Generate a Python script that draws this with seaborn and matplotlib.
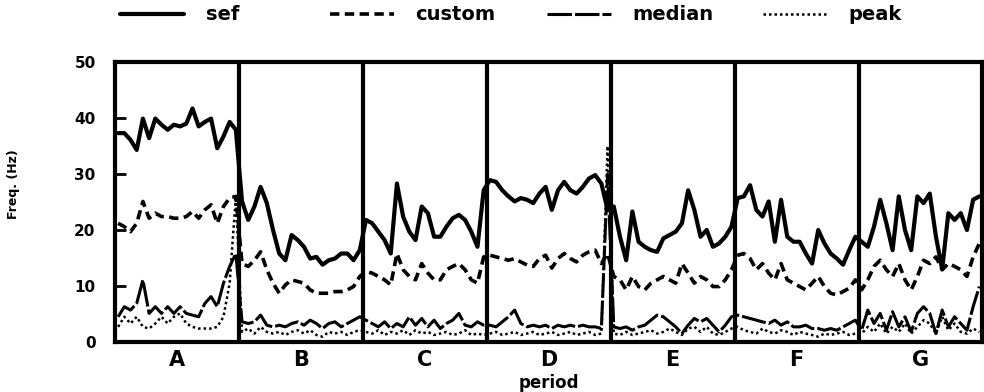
import numpy as np
import pandas as pd
import matplotlib
matplotlib.use("Agg")
import matplotlib.pyplot as plt
import seaborn as sns

periods = ["A", "B", "C", "D", "E", "F", "G"]
y_ticks = [0, 10, 20, 30, 40, 50]

sef_A = [37.3, 37.3, 36.1, 34.3, 39.9, 36.4, 39.9, 38.8, 37.9, 38.8, 38.5, 39.0, 41.7, 38.5, 39.3, 39.9, 34.6, 36.7, 39.3, 37.9]
sef_B = [25.1, 21.8, 24.2, 27.7, 24.8, 20.0, 15.8, 14.6, 19.1, 18.2, 17.0, 14.9, 15.2, 13.8, 14.6, 14.9, 15.8, 15.8, 14.6, 16.4]
sef_C = [21.8, 21.2, 19.7, 18.2, 15.8, 28.3, 22.4, 19.7, 18.2, 24.2, 23.0, 18.8, 18.8, 20.6, 22.1, 22.7, 21.8, 19.7, 17.0, 27.1]
sef_D = [28.9, 28.6, 27.1, 26.0, 25.1, 25.7, 25.4, 24.8, 26.5, 27.7, 23.6, 27.1, 28.6, 27.1, 26.5, 27.7, 29.2, 29.8, 28.3, 23.6]
sef_E = [24.2, 18.8, 14.6, 23.3, 17.9, 17.0, 16.4, 16.1, 18.5, 19.1, 19.7, 21.2, 27.1, 23.6, 18.8, 20.0, 17.0, 17.6, 18.8, 20.6]
sef_F = [25.7, 26.0, 28.0, 23.6, 22.4, 25.1, 17.9, 25.4, 18.8, 17.9, 17.9, 15.8, 14.0, 20.0, 17.6, 15.8, 14.9, 13.8, 16.4, 18.8]
sef_G = [17.9, 17.0, 20.6, 25.4, 21.2, 16.4, 26.0, 20.0, 16.4, 26.0, 24.8, 26.5, 18.8, 13.0, 23.0, 21.8, 23.0, 20.0, 25.4, 26.0]

custom_A = [21.2, 20.6, 19.7, 21.2, 25.1, 22.1, 23.0, 22.4, 22.4, 22.1, 22.1, 22.4, 23.3, 22.1, 23.6, 24.5, 21.2, 24.2, 25.7, 26.0]
custom_B = [14.0, 13.5, 14.6, 16.1, 12.9, 10.5, 8.7, 10.2, 11.1, 10.8, 10.5, 9.3, 8.7, 8.7, 8.7, 9.0, 9.0, 9.3, 9.9, 11.7]
custom_C = [12.6, 12.3, 11.7, 11.1, 10.2, 15.8, 12.9, 11.7, 11.1, 14.0, 12.3, 11.1, 11.1, 12.9, 13.5, 14.0, 12.9, 11.1, 10.5, 15.2]
custom_D = [15.5, 15.2, 14.9, 14.6, 14.9, 14.3, 13.75, 13.5, 14.9, 15.5, 13.2, 14.9, 15.8, 14.9, 14.3, 15.5, 16.1, 16.4, 14.0, 15.8]
custom_E = [11.7, 11.1, 9.3, 11.7, 9.9, 9.3, 10.5, 11.1, 11.7, 11.1, 10.5, 14.0, 12.3, 10.5, 11.7, 11.1, 9.9, 9.9, 11.1, 12.9]
custom_F = [15.5, 15.8, 14.9, 12.9, 14.0, 12.3, 11.1, 14.0, 11.1, 10.5, 9.9, 9.3, 10.5, 11.7, 9.9, 8.7, 8.4, 9.0, 9.6, 11.1]
custom_G = [9.3, 11.1, 13.5, 14.6, 12.9, 11.7, 14.0, 11.1, 9.3, 11.7, 14.6, 14.0, 15.2, 12.9, 14.0, 13.5, 12.9, 11.7, 15.2, 17.6]

median_A = [4.5, 6.3, 5.7, 6.9, 11.1, 5.1, 6.3, 5.1, 6.3, 5.1, 6.3, 5.1, 4.8, 4.5, 6.9, 8.1, 6.3, 10.5, 13.5, 15.8]
median_B = [3.6, 3.3, 3.6, 4.8, 3.0, 2.7, 3.0, 2.7, 3.3, 3.6, 3.0, 3.9, 3.3, 2.4, 3.3, 3.6, 2.7, 3.3, 3.9, 4.5]
median_C = [3.9, 3.3, 2.7, 3.6, 2.4, 3.3, 2.7, 4.5, 3.0, 4.2, 2.7, 3.9, 2.4, 3.3, 3.9, 5.1, 3.0, 2.7, 3.6, 3.0]
median_D = [3.0, 2.7, 3.6, 4.5, 5.7, 3.3, 2.7, 3.0, 2.7, 3.0, 2.4, 3.0, 2.7, 3.0, 2.7, 3.0, 2.7, 2.7, 2.4, 30.0]
median_E = [2.7, 2.4, 2.7, 2.1, 2.7, 3.0, 3.9, 4.8, 4.5, 3.6, 2.7, 1.5, 3.0, 4.2, 3.6, 4.2, 3.0, 1.8, 3.0, 4.5]
median_F = [4.8, 4.5, 4.2, 3.9, 3.6, 3.3, 3.9, 3.0, 3.6, 2.7, 2.7, 3.0, 2.4, 2.4, 2.1, 2.4, 2.1, 2.7, 3.3, 3.9]
median_G = [2.1, 5.7, 3.3, 5.1, 2.1, 5.4, 2.7, 4.5, 1.8, 5.1, 6.3, 5.1, 1.5, 5.7, 2.7, 4.5, 3.3, 2.1, 6.3, 9.9]

peak_A = [2.7, 4.5, 3.3, 4.5, 2.7, 2.4, 3.3, 4.5, 3.3, 4.5, 5.1, 3.3, 2.7, 2.4, 2.4, 2.4, 2.7, 4.5, 10.5, 26.0]
peak_B = [1.8, 2.4, 1.5, 2.7, 1.8, 1.5, 1.8, 1.25, 1.8, 2.1, 1.5, 2.1, 1.25, 0.95, 1.8, 1.5, 1.8, 1.25, 1.8, 2.1]
peak_C = [1.8, 1.5, 2.1, 1.25, 1.8, 1.5, 2.1, 1.25, 2.1, 1.5, 1.8, 1.25, 1.5, 1.8, 1.25, 1.5, 2.1, 1.25, 1.5, 1.25]
peak_D = [1.5, 1.8, 1.25, 1.5, 1.8, 1.25, 1.5, 1.8, 1.25, 1.5, 1.8, 1.25, 1.5, 1.8, 1.25, 1.5, 1.8, 1.25, 1.5, 35.0]
peak_E = [1.5, 1.25, 1.8, 1.25, 1.5, 1.8, 2.1, 1.5, 1.8, 2.4, 1.8, 1.25, 2.4, 2.7, 1.8, 2.7, 1.5, 1.25, 1.8, 2.4]
peak_F = [2.7, 2.1, 1.8, 1.5, 2.4, 1.8, 1.5, 2.1, 1.8, 1.25, 1.8, 1.5, 1.25, 0.95, 1.5, 1.25, 1.5, 1.8, 1.25, 1.5]
peak_G = [1.5, 2.7, 1.8, 3.3, 1.5, 2.7, 1.8, 3.3, 1.5, 2.7, 3.9, 3.3, 1.5, 4.5, 2.1, 3.3, 1.8, 1.5, 2.4, 1.8]

series = {
    "sef": [sef_A, sef_B, sef_C, sef_D, sef_E, sef_F, sef_G],
    "custom": [custom_A, custom_B, custom_C, custom_D, custom_E, custom_F, custom_G],
    "median": [median_A, median_B, median_C, median_D, median_E, median_F, median_G],
    "peak": [peak_A, peak_B, peak_C, peak_D, peak_E, peak_F, peak_G],
}

rows = []
for name, per_period in series.items():
    for pi, vals in enumerate(per_period):
        n = len(vals)
        for j, v in enumerate(vals):
            rows.append({"series": name, "x": pi + (j + 0.5) / n, "value": v})
df = pd.DataFrame(rows)

sns.set_style("ticks")
plt.rcParams["font.family"] = ["DejaVu Sans"]
plt.rcParams["font.weight"] = "bold"
plt.rcParams["text.color"] = "black"
plt.rcParams["axes.labelcolor"] = "black"
plt.rcParams["xtick.color"] = "black"
plt.rcParams["ytick.color"] = "black"
plt.rcParams["axes.edgecolor"] = "black"

fig = plt.figure(figsize=(9.84, 3.92), dpi=100)
ax = fig.add_axes([0.1169, 0.1276, 0.8815, 0.7142])

styles = {
    "sef": dict(linestyle="-", linewidth=3.0),
    "custom": dict(linestyle=(0, (2.6, 1.5)), linewidth=2.6),
    "median": dict(linestyle=(0, (8, 1)), linewidth=2.2),
    "peak": dict(linestyle=(0, (1, 1.2)), linewidth=1.8),
}
for name in series:
    sub = df[df["series"] == name]
    sns.lineplot(data=sub, x="x", y="value", ax=ax, color="black",
                 estimator=None, sort=True, label=name, **styles[name])

ax.set_xlim(0, 7)
ax.set_ylim(0, 50)
for b in range(1, 7):
    ax.axvline(b, color="black", linewidth=3.0, zorder=5)

ax.set_xticks([i + 0.5 for i in range(7)])
ax.set_xticklabels(periods, fontsize=15, fontweight="bold", color="black")
ax.set_yticks(y_ticks)
ax.set_yticklabels([str(t) for t in y_ticks], fontsize=11, fontweight="bold", color="black")
ax.tick_params(axis="x", length=0, pad=6)
ax.tick_params(axis="y", direction="in", length=8, width=2, pad=14)
ax.set_xlabel("")
ax.set_ylabel("")
for sp in ax.spines.values():
    sp.set_visible(True)
    sp.set_linewidth(3.0)
    sp.set_color("black")

handles, labels = ax.get_legend_handles_labels()
if ax.legend_:
    ax.legend_.remove()
legend_x = [120, 330, 547, 763]
for h, l, lx in zip(handles, labels, legend_x):
    leg = fig.legend(handles=[h], labels=[l], loc="center left",
                     bbox_to_anchor=(lx / 984, 1 - 15 / 392), frameon=False,
                     borderpad=0, borderaxespad=0, handlelength=3.3,
                     handletextpad=1.1, labelcolor="black",
                     prop={"size": 14, "weight": "bold"})

fig.text(549 / 984, 1 - 383 / 392, "period", ha="center", va="center",
         fontsize=12, fontweight="bold", color="black")
fig.text(14 / 984, 1 - 184 / 392, "Freq. (Hz)", ha="center", va="center",
         rotation=90, fontsize=9, fontweight="bold", color="black")

fig.savefig("out.png", dpi=100)
